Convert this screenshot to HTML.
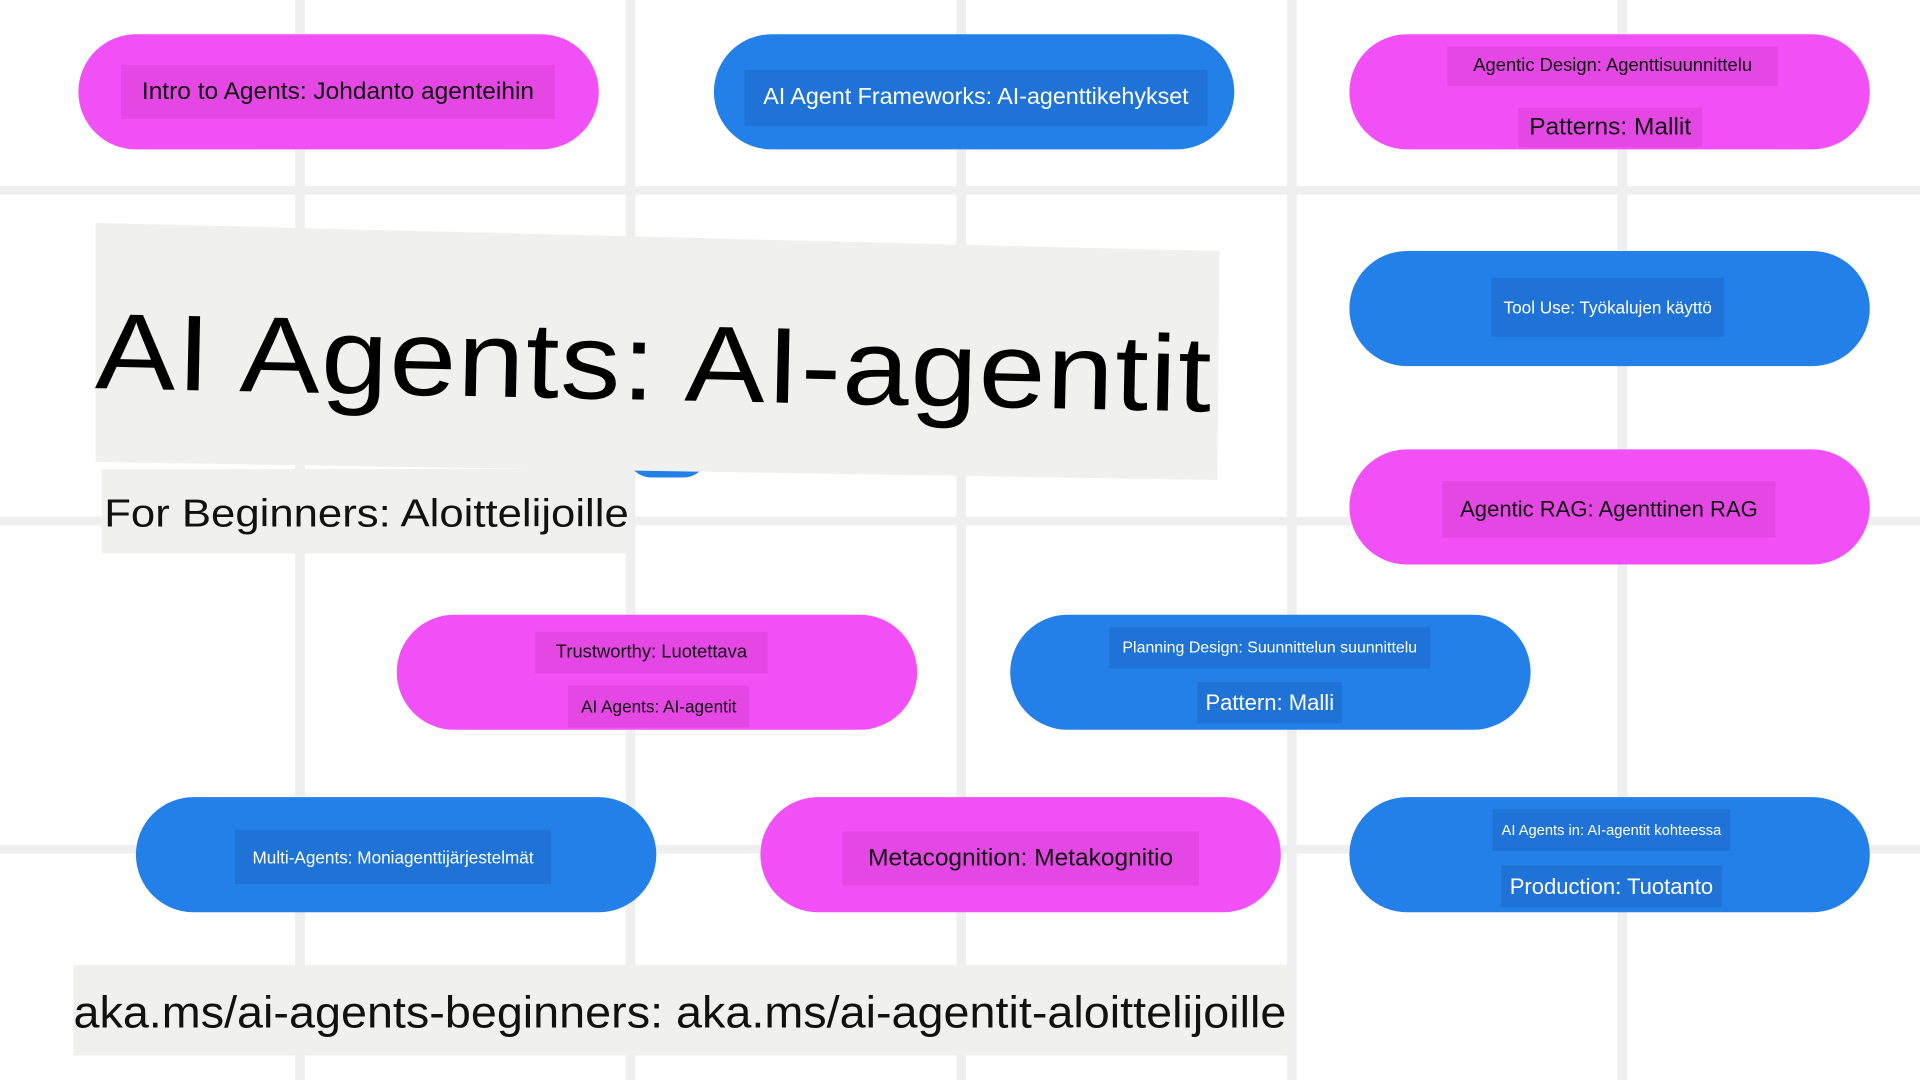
<!DOCTYPE html>
<html><head><meta charset="utf-8"><style>
html,body{margin:0;padding:0;width:1920px;height:1080px;overflow:hidden;background:#fff}
#w{position:absolute;left:0;top:0;width:1568px;height:882px;transform:scale(1.22449);transform-origin:0 0;font-family:"Liberation Sans","DejaVu Sans",sans-serif}
.v{position:absolute;top:0;width:8px;height:882px;background:#efefef}
.h{position:absolute;left:0;height:7px;width:1568px;background:#efefef}
.p{position:absolute;width:425px;height:94px;border-radius:47px}
.pk{background:#f050f5}.bl{background:#2380e8}
.t{position:absolute;white-space:nowrap;padding:4px 0;text-align:center}
.pk .t{background:#e447e4;color:#111}
.bl .t{background:#1f73d6;color:#fff}
.sx{display:inline-block;transform-origin:0 50%}
</style></head><body><div id="w">
<div class="v" style="left:241px"></div><div class="v" style="left:511px"></div><div class="v" style="left:781px"></div><div class="v" style="left:1051px"></div><div class="v" style="left:1321px"></div>
<div class="h" style="top:152px"></div><div class="h" style="top:422px"></div><div class="h" style="top:690px"></div>

<div class="p pk" style="left:64px;top:28px"><div class="t" style="left:35px;top:25px;width:354px;font-size:20px;line-height:44px;padding:0">Intro to Agents: Johdanto agenteihin</div></div>
<div class="p bl" style="left:583px;top:28px"><div class="t" style="left:25px;top:29px;width:378px;font-size:19px;line-height:46px;padding:0">AI Agent Frameworks: AI-agenttikehykset</div></div>
<div class="p pk" style="left:1102px;top:28px"><div class="t" style="left:80px;top:10px;width:270px;font-size:15px;line-height:32px;padding:0">Agentic Design: Agenttisuunnittelu</div><div class="t" style="left:138px;top:60px;width:150px;font-size:20px;line-height:32px;padding:0">Patterns: Mallit</div></div>
<div class="p bl" style="left:1102px;top:205px"><div class="t" style="left:116px;top:22px;width:190px;font-size:14px;line-height:48px;padding:0">Tool Use: Työkalujen käyttö</div></div>
<div class="p pk" style="left:1102px;top:367px"><div class="t" style="left:76px;top:26px;width:272px;font-size:18px;line-height:46px;padding:0">Agentic RAG: Agenttinen RAG</div></div>
<div class="p pk" style="left:324px;top:502px"><div class="t" style="left:113px;top:14px;width:190px;font-size:15px;line-height:34px;padding:0">Trustworthy: Luotettava</div><div class="t" style="left:140px;top:58px;width:148px;font-size:14px;line-height:34px;padding:0">AI Agents: AI-agentit</div></div>
<div class="p bl" style="left:825px;top:502px"><div class="t" style="left:81px;top:10px;width:262px;font-size:13px;line-height:34px;padding:0">Planning Design: Suunnittelun suunnittelu</div><div class="t" style="left:153px;top:55px;width:118px;font-size:18px;line-height:34px;padding:0">Pattern: Malli</div></div>
<div class="p bl" style="left:111px;top:651px"><div class="t" style="left:81px;top:27px;width:258px;font-size:14px;line-height:44px;padding:0">Multi-Agents: Moniagenttijärjestelmät</div></div>
<div class="p pk" style="left:621px;top:651px"><div class="t" style="left:67px;top:28px;width:291px;font-size:20px;line-height:44px;padding:0">Metacognition: Metakognitio</div></div>
<div class="p bl" style="left:1102px;top:651px"><div class="t" style="left:117px;top:10px;width:194px;font-size:12px;line-height:34px;padding:0">AI Agents in: AI-agentit kohteessa</div><div class="t" style="left:124px;top:56px;width:180px;font-size:18px;line-height:34px;padding:0">Production: Tuotanto</div></div>

<div style="position:absolute;left:512px;top:370px;width:66px;height:20px;border-radius:0 0 33px 33px;background:#2380e8"></div>
<div style="position:absolute;left:78px;top:182px;width:918px;height:210px;background:#f0f0ef;clip-path:polygon(0 0,100% 11%,99.8% 100%,0 93%)"></div>
<div style="position:absolute;left:78px;top:232px;width:918px;font-size:88px;line-height:110px;color:#000;white-space:nowrap;transform:rotate(1.2deg);transform-origin:0 50%;letter-spacing:1px"><span class="sx" style="transform:scaleX(1.115)">AI Agents: AI-agentit</span></div>
<div style="position:absolute;left:83px;top:383px;width:429px;height:69px;background:#f0f0ef;font-size:32px;line-height:72px;color:#111;white-space:nowrap;text-indent:1px"><span class="sx" style="transform:scaleX(1.115)">For Beginners: Aloittelijoille</span></div>
<div style="position:absolute;left:60px;top:788px;width:992px;height:74px;background:#f0f0ef;font-size:36px;line-height:78px;color:#111;white-space:nowrap"><span class="sx" style="transform:scaleX(1.06)">aka.ms/ai-agents-beginners: aka.ms/ai-agentit-aloittelijoille</span></div>
</div></body></html>
